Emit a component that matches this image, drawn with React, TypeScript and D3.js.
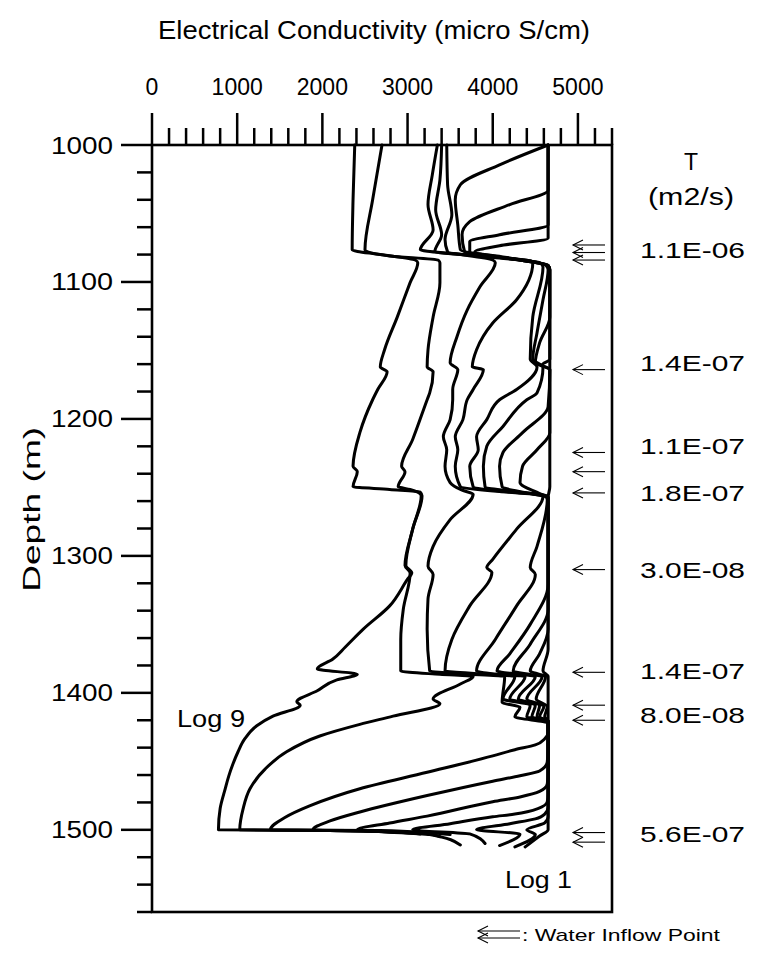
import React, { useEffect } from "react";
import * as d3 from "d3";

// [depth (m), EC (micro S/cm)]
const log9 = [[1000,2380],[1040,2360],[1076.5,2350],[1080,2680],[1084,3090],[1086,3120],[1100.5,3030],[1125.5,2880],[1149.5,2730],[1162,2680],[1165.5,2760],[1178.5,2650],[1186,2590],[1210,2440],[1234.5,2360],[1238.5,2410],[1249.5,2360],[1251.5,2790],[1253.5,3150],[1256,3170],[1280.5,3060],[1307,2980],[1312.5,3050],[1317,3000],[1336.5,2790],[1353.5,2480],[1366.5,2270],[1375.5,2120],[1382.5,1940],[1386.5,2410],[1390.5,2170],[1398.5,1940],[1406.5,1700],[1409,1740],[1417,1420],[1424,1230],[1433.5,1090],[1443,1010],[1452,950],[1461,900],[1470,860],[1484.5,800],[1500,780],[1500.5,2090],[1502,3030]];
const log8 = [[1000,2700],[1040,2590],[1076.5,2500],[1081,2790],[1084,3360],[1086,3380],[1100.5,3380],[1125.5,3300],[1149.5,3240],[1162,3230],[1165.5,3300],[1181,3260],[1186,3230],[1215,3060],[1234.5,2930],[1238.5,2970],[1249.5,2890],[1251.5,3030],[1253.5,3120],[1256,3160],[1280.5,3060],[1307,2970],[1312.5,3030],[1339,2950],[1361,2920],[1384,2920],[1386.5,3380],[1388,3770],[1393.5,3620],[1404.5,3300],[1408,3380],[1417,2830],[1423,2440],[1431.5,1970],[1443,1580],[1455.5,1330],[1470,1150],[1484.5,1070],[1500,1030],[1500.5,2320],[1503,3150]];
const log7 = [[1000,3350],[1022,3290],[1043.5,3240],[1062,3300],[1076.5,3150],[1080,3620],[1084,4000],[1086,4030],[1103.5,3850],[1120.5,3700],[1140,3580],[1159,3500],[1164,3590],[1178.5,3530],[1186,3530],[1200.5,3500],[1213,3420],[1222.5,3460],[1234.5,3440],[1246.5,3500],[1252,3640],[1255,3770],[1273.5,3500],[1293,3300],[1307.5,3240],[1313.5,3300],[1331.5,3240],[1353.5,3230],[1384,3260],[1386.5,3730],[1388,4140],[1407,4110],[1410.5,4320],[1417.5,4260],[1422,4650],[1428.5,4650],[1433.5,4610],[1438,4500],[1441.5,4260],[1446,4000],[1458,3230],[1470,2440],[1482.5,1850],[1491,1560],[1500,1390],[1500.5,2680],[1503.5,3500]];
const log6 = [[1000,3400],[1025.5,3380],[1047.5,3330],[1065.5,3400],[1078,3320],[1081.5,3970],[1084.5,4440],[1086,4470],[1113,4280],[1130,4000],[1149.5,3810],[1162,3760],[1164,3890],[1178.5,3770],[1186,3700],[1200.5,3650],[1213,3560],[1222.5,3590],[1234.5,3560],[1249.5,3620],[1253,4080],[1255,4550],[1256.5,4590],[1280.5,4280],[1302.5,4000],[1308.5,3930],[1312,3990],[1336.5,3730],[1361,3520],[1384,3440],[1386.5,3970],[1388,4260],[1404.5,4120],[1409,4440],[1417.5,4400],[1420.5,4650],[1441,4650],[1450.5,4640],[1457,4550],[1460.5,4320],[1464.5,4000],[1475,3230],[1487,2440],[1493.5,2090],[1500,1890],[1502,3150],[1505,3380]];
const log5 = [[1000,3460],[1029,3470],[1051,3520],[1069,3440],[1078,3470],[1082.5,4080],[1086,4550],[1089,4590],[1125.5,4470],[1156.5,4440],[1162,4520],[1178.5,4280],[1186,4080],[1200.5,3930],[1213,3810],[1222.5,3830],[1234.5,3730],[1249.5,3770],[1253.5,4200],[1256,4610],[1259,4640],[1293,4520],[1308.5,4440],[1313.5,4500],[1336.5,4280],[1361,4030],[1384,3810],[1386.5,4080],[1388,4380],[1404.5,4200],[1409,4500],[1417.5,4460],[1420.5,4650],[1459,4650],[1466.5,4640],[1472,4550],[1476,4320],[1479.5,4000],[1490,3230],[1495,2790],[1500,2410],[1503.5,3260],[1511,3620]];
const log4 = [[1000,4650],[1014.5,4080],[1029,3620],[1040,3560],[1058.5,3590],[1076.5,3620],[1082.5,4200],[1087.5,4620],[1091,4650],[1113,4590],[1137,4520],[1156.5,4470],[1162,4590],[1181,4520],[1186,4400],[1205.5,4120],[1220,3930],[1234.5,3890],[1249.5,3910],[1253.5,4320],[1256.5,4650],[1320.5,4650],[1350,4440],[1371.5,4200],[1384,4050],[1386.5,4320],[1388,4500],[1404.5,4300],[1409,4550],[1417.5,4520],[1420.5,4650],[1474,4650],[1479.5,4640],[1484.5,4530],[1488.5,4260],[1490.5,4000],[1495.5,3500],[1500,3060],[1503,3730],[1510,3910]];
const log3 = [[1000,4650],[1033,4650],[1043.5,4200],[1056,3730],[1065.5,3640],[1078,3670],[1084,4320],[1088,4650],[1091,4670],[1125.5,4670],[1144.5,4550],[1159,4500],[1164,4670],[1191,4650],[1210,4350],[1224.5,4120],[1234.5,4080],[1249.5,4110],[1254.5,4440],[1257.5,4650],[1339,4650],[1364.5,4440],[1384,4240],[1386.5,4440],[1388,4580],[1404.5,4400],[1410,4600],[1417.5,4550],[1420.5,4650],[1483.5,4650],[1488.5,4610],[1492,4500],[1495.5,4200],[1500,3810],[1503,4320],[1511.5,4080]];
const log2 = [[1000,4650],[1058.5,4650],[1065.5,4080],[1070.5,3730],[1078,3730],[1084,4320],[1088,4650],[1091,4670],[1156.5,4670],[1160.5,4580],[1164,4670],[1210,4670],[1222.5,4520],[1234.5,4350],[1246.5,4320],[1254.5,4550],[1257.5,4650],[1353.5,4650],[1371.5,4550],[1384,4440],[1386.5,4550],[1388,4620],[1404.5,4510],[1410,4640],[1417.5,4610],[1420.5,4650],[1490.5,4650],[1495,4610],[1500,4400],[1503.5,4500],[1512.5,4260]];
const log1 = [[1000,4650],[1068,4650],[1073.5,4080],[1078,3790],[1084,4320],[1088,4650],[1091,4670],[1249.5,4670],[1257.5,4650],[1368,4650],[1384,4590],[1388,4650],[1500,4650],[1504.5,4550],[1512.5,4380]];

const logs = [log1, log2, log3, log4, log5, log6, log7, log8, log9];

// inflow points: arrow depths and transmissivity labels
const arrowDepths = [1073, 1078.5, 1084, 1164, 1224.5, 1238.5, 1254, 1310, 1385, 1409, 1420, 1502, 1509];
const tLabels = ["1.1E-06", "1.4E-07", "1.1E-07", "1.8E-07", "3.0E-08", "1.4E-07", "8.0E-08", "5.6E-07"];
const tLabelDepths = [1077, 1159, 1220, 1254, 1310, 1384, 1416, 1503];

const xTicks = [0, 1000, 2000, 3000, 4000, 5000];
const yTicks = [1000, 1100, 1200, 1300, 1400, 1500];

const W = 757, H = 956;
const FONT = "'Liberation Sans', Arial, Helvetica, sans-serif";

export default function App() {
  useEffect(() => {
    document.body.style.margin = "0";
  }, []);

  const x = d3.scaleLinear().domain([0, 5400]).range([152, 612]);
  const y = d3.scaleLinear().domain([1000, 1560]).range([145, 912]);

  const line = d3
    .line<number[]>()
    .x((d) => x(d[1]))
    .y((d) => y(d[0]))
    .curve(d3.curveMonotoneY);

  const minorX = d3.range(0, 5401, 200);
  const minorY = d3.range(1000, 1561, 20);

  const arrow = (ay: number, x0: number, x1: number, key: string) => (
    <g key={key} stroke="#000" strokeWidth={1.1} fill="none">
      <line x1={x0} y1={ay} x2={x1} y2={ay} />
      <polyline points={`${x0 + 10},${ay - 5} ${x0},${ay} ${x0 + 10},${ay + 5}`} />
    </g>
  );

  return (
    <svg width={W} height={H} style={{ display: "block", background: "#fff" }} fontFamily={FONT}>
      <rect width={W} height={H} fill="#fff" />
      {/* title */}
      <text x={374} y={39} textAnchor="middle" fontSize={25} textLength={432} lengthAdjust="spacingAndGlyphs">
        Electrical Conductivity (micro S/cm)
      </text>
      {/* top tick labels */}
      {xTicks.map((t) => (
        <text key={t} x={x(t)} y={95} textAnchor="middle" fontSize={23}>
          {t}
        </text>
      ))}
      {/* left tick labels */}
      {yTicks.map((t) => (
        <text key={t} x={113} y={y(t) + 8.5} textAnchor="end" fontSize={24} textLength={62} lengthAdjust="spacingAndGlyphs">
          {t}
        </text>
      ))}
      <text
        transform={`translate(40,${y(1266)}) rotate(-90)`}
        textAnchor="middle"
        fontSize={24}
        textLength={165}
        lengthAdjust="spacingAndGlyphs"
      >
        Depth (m)
      </text>

      {/* ticks */}
      <g stroke="#000" strokeWidth={2.5}>
        {minorX.map((t) => (
          <line key={"mx" + t} x1={x(t)} x2={x(t)} y1={145} y2={t % 1000 === 0 ? 113 : 128} />
        ))}
        {minorY.map((t) => (
          <line key={"my" + t} x1={152} x2={t % 100 === 0 ? 121 : 137} y1={y(t)} y2={y(t)} />
        ))}
      </g>

      {/* logs */}
      <g fill="none" stroke="#000" strokeWidth={3} strokeLinejoin="round" strokeLinecap="round">
        {logs.map((lg, i) => (
          <path key={i} d={line(lg as any) || ""} />
        ))}
      </g>

      {/* frame */}
      <rect x={152} y={145} width={460} height={767} fill="none" stroke="#000" strokeWidth={2.6} />

      {/* arrows */}
      {arrowDepths.map((d, i) => arrow(y(d), 573, 605, "a" + i))}

      {/* right labels */}
      <text x={691} y={170} textAnchor="middle" fontSize={23}>T</text>
      <text x={691} y={205} textAnchor="middle" fontSize={23} textLength={86} lengthAdjust="spacingAndGlyphs">(m2/s)</text>
      {tLabels.map((t, i) => (
        <text key={i} x={640} y={y(tLabelDepths[i]) + 8} fontSize={22} textLength={105} lengthAdjust="spacingAndGlyphs">
          {t}
        </text>
      ))}

      <text x={177} y={727} fontSize={24} textLength={68} lengthAdjust="spacingAndGlyphs">Log 9</text>
      <text x={505} y={888} fontSize={24} textLength={67} lengthAdjust="spacingAndGlyphs">Log 1</text>

      {/* legend */}
      {arrow(931, 478, 520, "l1")}
      {arrow(938, 478, 520, "l2")}
      <text x={522} y={941} fontSize={17} textLength={198} lengthAdjust="spacingAndGlyphs">: Water Inflow Point</text>
    </svg>
  );
}
